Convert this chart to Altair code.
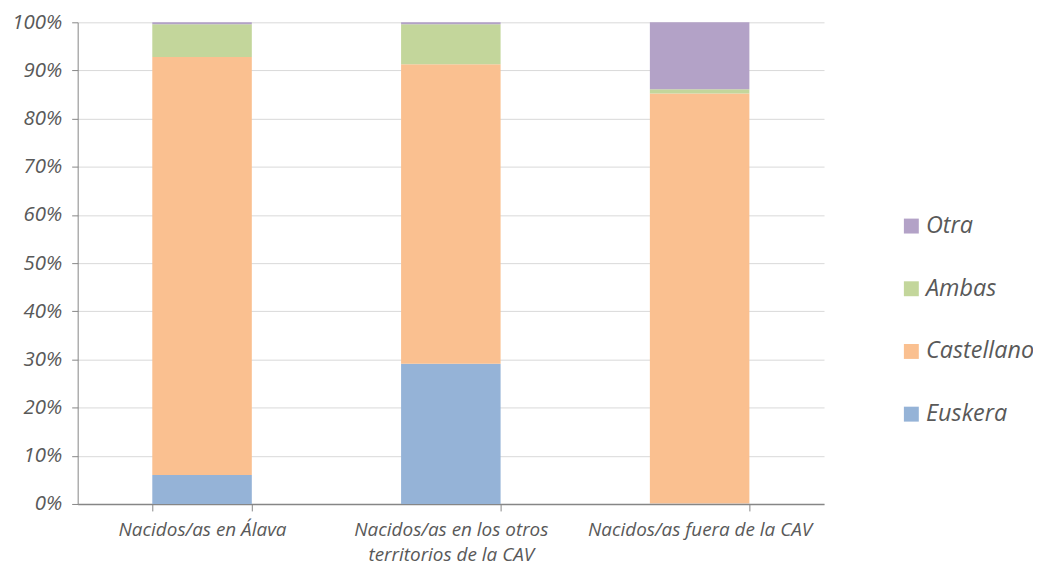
import altair as alt
import pandas as pd

categories = ["Nacidos/as en Álava", "Nacidos/as en los otros territorios de la CAV", "Nacidos/as fuera de la CAV"]
series = ["Euskera", "Castellano", "Ambas", "Otra"]
euskera = [0.060, 0.291, 0.001]
castellano = [0.868, 0.622, 0.851]
ambas = [0.068, 0.083, 0.009]
otra = [0.004, 0.004, 0.139]
colors = ["#95B3D7", "#FAC090", "#C3D69B", "#B3A2C7"]

rows = []
vals = [euskera, castellano, ambas, otra]
for si, s in enumerate(series):
    for ci, c in enumerate(categories):
        rows.append({"cat": c, "serie": s, "value": vals[si][ci], "ord": si})
df = pd.DataFrame(rows)

font = "Open Sans"
gray = "#595959"

label_expr = ("datum.value == 'Nacidos/as en los otros territorios de la CAV' ? "
              "['Nacidos/as en los otros', 'territorios de la CAV'] : datum.value")

chart = alt.Chart(df).mark_bar().encode(
    x=alt.X("cat:N", sort=categories, title=None,
            scale=alt.Scale(paddingInner=0.6, paddingOuter=0.3),
            axis=alt.Axis(labelAngle=0, labelExpr=label_expr, labelFont=font,
                          labelFontStyle="italic", labelFontSize=19, labelColor=gray,
                          labelLineHeight=25, labelPadding=10, labelLimit=400,
                          tickBand="extent",
                          domainColor="#868686", domainWidth=1.5, tickColor="#868686",
                          tickSize=7, grid=False)),
    y=alt.Y("value:Q", stack="zero", title=None,
            scale=alt.Scale(domain=[0, 1], nice=False),
            axis=alt.Axis(format=".0%", values=[i / 10 for i in range(11)],
                          labelFont=font, labelFontStyle="italic", labelFontSize=20.5,
                          labelColor=gray, labelPadding=10, tickSize=6,
                          tickColor="#868686", domainColor="#868686",
                          gridColor="#D9D9D9", gridWidth=1)),
    color=alt.Color("serie:N",
                    scale=alt.Scale(domain=series[::-1], range=colors[::-1]),
                    legend=alt.Legend(title=None, orient="none", legendX=826, legendY=193,
                                      symbolType="square", symbolSize=225,
                                      symbolStrokeWidth=0, labelFont=font,
                                      labelFontStyle="italic", labelFontSize=23.5,
                                      labelColor=gray, rowPadding=38, labelOffset=3,
                                      labelLimit=300)),
    order=alt.Order("ord:Q", sort="ascending"),
).properties(
    width=750, height=484,
    autosize=alt.AutoSizeParams(type="none"),
    padding={"left": 70, "top": 13, "right": 210, "bottom": 70},
).configure_view(stroke=None)

chart.save("out.html", embed_options={"renderer": "svg", "actions": False})
